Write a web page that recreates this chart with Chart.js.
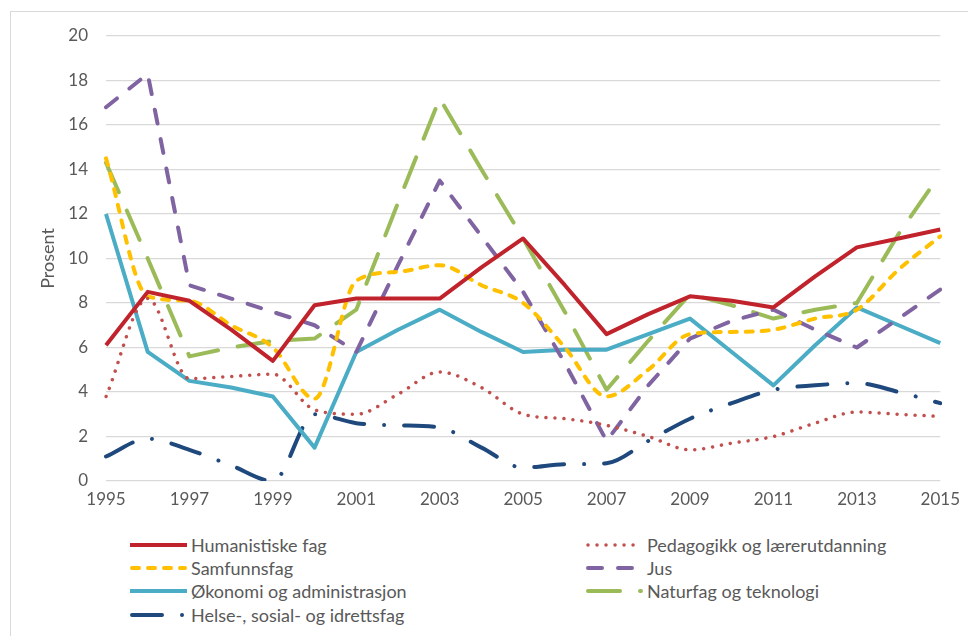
<!DOCTYPE html>
<html>
<head>
    <title>Prosent etter fagfelt 1995-2015</title>
    <script src="https://cdn.jsdelivr.net/npm/chart.js"></script>
    <style>
        html, body { margin: 0; padding: 0; background: #fff; overflow: hidden; }
        body { width: 968px; height: 636px; position: relative; font-family: Lato, "Open Sans", sans-serif; }
        .frame { position: absolute; left: 10px; top: 11px; width: 980px; height: 660px; border: 1px solid #d9d9d9; }
        .chart-box { position: absolute; left: 0; top: 0; width: 968px; height: 520px; }
        .legend-item { position: absolute; height: 20px; display: flex; align-items: center; font-size: 18px; color: #595959; white-space: nowrap; }
        .legend-item svg { margin-right: 3px; }
    </style>
</head>
<body>
    <div class="frame"></div>
    <div class="chart-box">
        <canvas id="fagChart" width="968" height="520"></canvas>
    </div>
    <div id="legend"></div>

    <script>
        // years on the x axis
        const years = ['1995','1996','1997','1998','1999','2000','2001','2002','2003','2004','2005',
                       '2006','2007','2008','2009','2010','2011','2012','2013','2014','2015'];

        const humanistiske = [6.1, 8.5, 8.1, 6.8, 5.4, 7.9, 8.2, 8.2, 8.2, 9.6, 10.9, 8.8, 6.6, 7.5, 8.3, 8.1, 7.8, 9.2, 10.5, 10.9, 11.3];
        const pedagogikk   = [3.8, 8.2, 4.6, 4.7, 4.8, 3.2, 3.0, 3.9, 4.9, 4.2, 3.0, 2.8, 2.5, 2.0, 1.4, 1.7, 2.0, 2.6, 3.1, 3.0, 2.9];
        const samfunnsfag  = [14.5, 8.3, 8.1, 7.0, 6.0, 3.7, 9.0, 9.4, 9.7, 8.8, 8.0, 6.0, 3.8, 5.0, 6.6, 6.7, 6.8, 7.3, 7.7, 9.5, 11.0];
        const jus          = [16.8, 18.3, 8.8, 8.2, 7.6, 7.0, 5.8, 9.7, 13.5, 11.0, 8.5, 5.3, 1.8, 4.3, 6.4, 7.2, 7.7, 6.8, 6.0, 7.3, 8.6];
        const okonomi      = [12.0, 5.8, 4.5, 4.2, 3.8, 1.5, 5.8, 6.8, 7.7, 6.7, 5.8, 5.9, 5.9, 6.6, 7.3, 5.8, 4.3, 6.1, 7.8, 7.0, 6.2];
        const naturfag     = [14.3, 10.0, 5.6, 6.0, 6.3, 6.4, 7.7, 12.5, 17.2, 14.0, 10.9, 7.6, 4.1, 6.3, 8.4, 7.9, 7.3, 7.7, 8.0, 11.1, 13.8];
        const helse        = [1.1, 1.9, 1.4, 0.7, 0.0, 3.0, 2.6, 2.5, 2.4, 1.5, 0.6, 0.75, 0.8, 1.8, 2.8, 3.5, 4.1, 4.3, 4.4, 4.0, 3.5];

        const yTicks = [0, 2, 4, 6, 8, 10, 12, 14, 16, 18, 20];

        const textColor = '#595959';
        const fontFamily = 'Lato, "Open Sans", sans-serif';

        // label, data, colour, width, dash, smooth, legend column/row
        const series = [
            { label: 'Humanistiske fag', data: humanistiske, color: '#C0232B', width: 4, dash: [], smooth: false, col: 0, row: 0 },
            { label: 'Pedagogikk og lærerutdanning', data: pedagogikk, color: '#C0504D', width: 3.5, dash: [0.01, 9], smooth: true, col: 1, row: 0 },
            { label: 'Samfunnsfag', data: samfunnsfag, color: '#FFC000', width: 4, dash: [7, 9], smooth: true, col: 0, row: 1 },
            { label: 'Jus', data: jus, color: '#8064A2', width: 4, dash: [14, 16], smooth: false, col: 1, row: 1 },
            { label: 'Økonomi og administrasjon', data: okonomi, color: '#4BACC6', width: 4, dash: [], smooth: false, col: 0, row: 2 },
            { label: 'Naturfag og teknologi', data: naturfag, color: '#9BBB59', width: 4, dash: [32, 20], smooth: false, col: 1, row: 2 },
            { label: 'Helse-, sosial- og idrettsfag', data: helse, color: '#1F497D', width: 4, dash: [30, 20, 0.01, 20], smooth: true, col: 0, row: 3 }
        ];

        const ctx = document.getElementById('fagChart').getContext('2d');

        const chart = new Chart(ctx, {
            type: 'line',
            data: {
                labels: years,
                datasets: series.map(s => ({
                    label: s.label,
                    data: s.data,
                    borderColor: s.color,
                    backgroundColor: s.color,
                    borderWidth: s.width,
                    borderDash: s.dash,
                    borderCapStyle: s.dash.length ? 'round' : 'butt',
                    borderJoinStyle: 'round',
                    cubicInterpolationMode: s.smooth ? 'monotone' : 'default',
                    tension: s.smooth ? 0.4 : 0,
                    pointRadius: 0,
                    pointHoverRadius: 0,
                    fill: false
                }))
            },
            options: {
                responsive: false,
                devicePixelRatio: 1,
                animation: false,
                layout: { padding: { left: 0, right: 26, top: 36, bottom: 0 } },
                scales: {
                    x: {
                        type: 'category',
                        offset: false,
                        grid: { display: false, drawTicks: false },
                        border: { display: false },
                        afterFit: scale => { scale.height = 39; },
                        ticks: {
                            autoSkip: false,
                            maxRotation: 0,
                            padding: 8,
                            color: textColor,
                            font: { family: fontFamily, size: 17 },
                            callback: function (val, i) {
                                return i % 2 === 0 ? years[i] : '';
                            }
                        }
                    },
                    y: {
                        min: yTicks[0],
                        max: yTicks[yTicks.length - 1],
                        afterFit: scale => { scale.width = 106; },
                        afterBuildTicks: scale => { scale.ticks = yTicks.map(v => ({ value: v })); },
                        grid: { color: '#d9d9d9', lineWidth: 1.3, drawTicks: false },
                        border: { display: false },
                        ticks: {
                            padding: 18,
                            color: textColor,
                            font: { family: fontFamily, size: 17 }
                        },
                        title: {
                            display: true,
                            text: 'Prosent',
                            color: textColor,
                            font: { family: fontFamily, size: 18 },
                            padding: { top: 37, bottom: 0 }
                        }
                    }
                },
                plugins: {
                    legend: { display: false },
                    tooltip: { enabled: false }
                }
            }
        });

        // legend in two columns below the chart
        const legendDiv = document.getElementById('legend');
        const colX = [130, 586];
        const rowY = [535, 558, 581, 605];
        series.forEach(s => {
            const item = document.createElement('div');
            item.className = 'legend-item';
            item.style.left = colX[s.col] + 'px';
            item.style.top = rowY[s.row] + 'px';
            const dashAttr = s.dash.length ? ' stroke-dasharray="' + s.dash.join(' ') + '" stroke-linecap="round"' : '';
            const pad = s.dash.length ? 2 : 0;
            item.innerHTML = '<svg width="58" height="20"><line x1="' + pad + '" y1="10" x2="' + (57 - pad) + '" y2="10" stroke="' + s.color +
                '" stroke-width="' + s.width + '"' + dashAttr + '/></svg><span>' + s.label + '</span>';
            legendDiv.appendChild(item);
        });
    </script>
</body>
</html>
